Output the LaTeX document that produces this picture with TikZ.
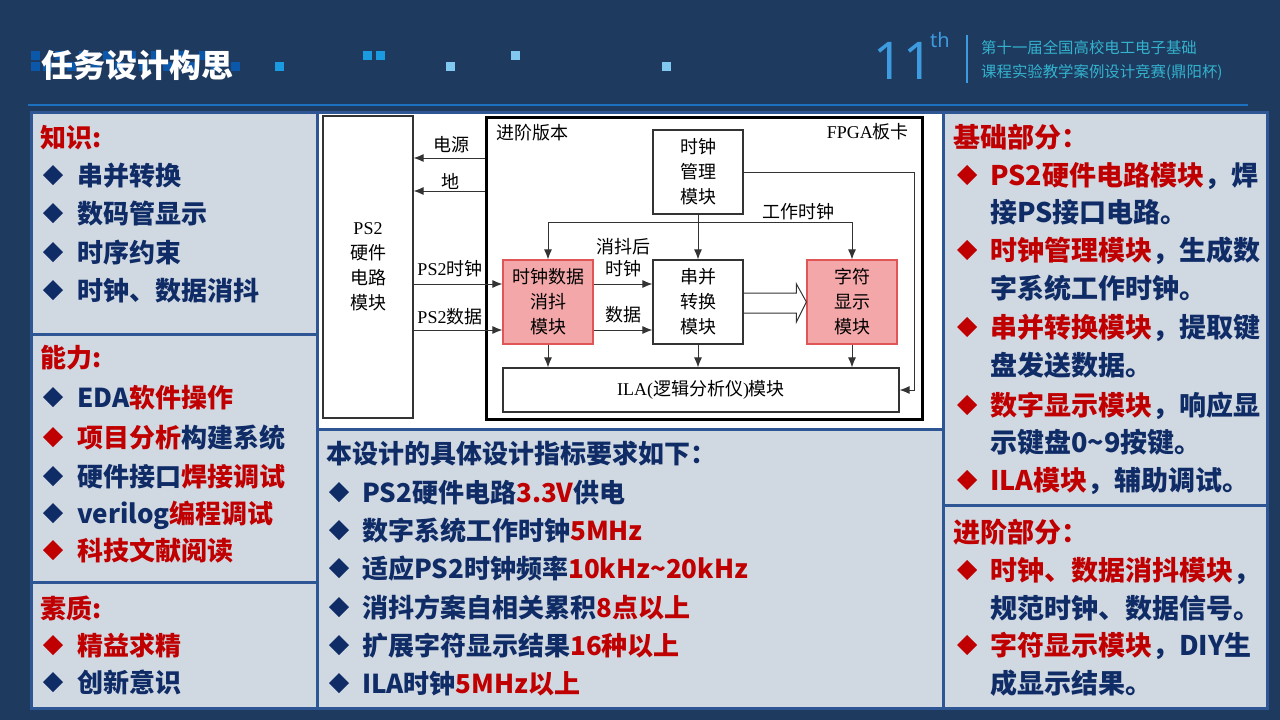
\documentclass[tikz,border=0pt]{standalone}
\usepackage{fontspec}
\setmainfont{Noto Sans CJK SC}
\newfontfamily\dlat{Liberation Serif}
\newfontfamily\numf{Noto Sans}
\usetikzlibrary{arrows.meta,calc}
\definecolor{bgc}{HTML}{1F3A5F}
\definecolor{panelc}{HTML}{D0D8E2}
\definecolor{pborder}{HTML}{2E5594}
\definecolor{navyT}{HTML}{0F2C66}
\definecolor{redT}{HTML}{C00000}
\definecolor{pinkF}{HTML}{F4A7A9}
\definecolor{pinkD}{HTML}{E05555}
\definecolor{hline}{HTML}{1B70C0}
\definecolor{c11}{HTML}{3D9BE0}
\definecolor{tealT}{HTML}{33B2CE}
\definecolor{sqA}{HTML}{0B58AA}
\definecolor{sqB}{HTML}{1A9AE0}
\definecolor{sqC}{HTML}{80C8F0}
\newcommand\mybul[3]{\fill[#3] (#1-10,#2) -- (#1,#2-10) -- (#1+10,#2) -- (#1,#2+10) -- cycle;}
\newcommand\sq[3]{\fill[#3] (#1,#2) rectangle (#1+9,#2+9);}
\tikzset{
  pan/.style={draw=pborder, line width=3pt},
  ptxt/.style={anchor=west, inner sep=0pt, font=\fontsize{26}{30}\selectfont\bfseries, text=navyT, text height=23pt, text depth=3pt},
  rtxt/.style={anchor=west, inner sep=0pt, font=\fontsize{27}{30}\selectfont\bfseries, text=navyT, text height=24pt, text depth=3pt},
  blk/.style={draw=black!80, line width=1.2pt, fill=white, inner sep=0pt, align=center, font=\fontsize{18}{25}\selectfont},
  pinkblk/.style={blk, fill=pinkF, draw=pinkD},
  arr/.style={-{Latex[length=10pt,width=8pt]}, line width=1pt, draw=black!80},
  ln/.style={line width=1pt, draw=black!80},
  lbl/.style={font=\fontsize{18}{22}\selectfont, inner sep=0pt, align=center},
}
\begin{document}
\begin{tikzpicture}[x=1pt,y=-1pt]
\useasboundingbox (0,0) rectangle (1280,720);
\fill[bgc] (0,0) rectangle (1280,720);

% header decoration squares
\foreach \xx in {31,55,79,103,127,151,175,199} {\sq{\xx}{51}{sqA}}
\foreach \xx in {31,43,67,91,115,139,163,187,211,231} {\sq{\xx}{62}{sqA}}
\sq{275}{62}{sqB}
\sq{363}{51}{sqB}
\sq{376}{51}{sqB}
\sq{446}{62}{sqC}
\sq{511}{51}{sqC}
\sq{662}{62}{sqC}
\node[anchor=west, inner sep=0pt, font=\fontsize{32}{36}\selectfont\bfseries, text=white] (title) at (41,65) {任务设计构思};
\draw[hline, line width=2pt] (28,105) -- (1248,105);

\node[inner sep=0pt, font=\numf\fontsize{52}{52}\selectfont, text=c11] (n11) at (903,61) {11};
\node[inner sep=0pt, font=\numf\fontsize{20}{20}\selectfont, text=c11] (nth) at (940,40) {th};
\draw[c11, line width=1.2pt] (967,35) -- (967,83);
\node[anchor=west, inner sep=0pt, font=\fontsize{15.4}{18}\selectfont, text=tealT] (h1) at (981,48) {第十一届全国高校电工电子基础};
\node[anchor=west, inner sep=0pt, font=\fontsize{15.4}{18}\selectfont, text=tealT] (h2) at (981,72) {课程实验教学案例设计竞赛(鼎阳杯)};

% panels
\foreach \a/\b/\c/\d/\f in {31/112/317/334/panelc, 31/334/317/582/panelc, 31/582/317/708/panelc, 317/112/943/429/white, 317/429/943/708/panelc, 943/112/1267/505/panelc, 943/505/1267/708/panelc}
  {\draw[pan, fill=\f] (\a,\b) rectangle (\c,\d);}

% left panel 1
\node[ptxt, text=redT] (k0) at (40,137) {知识:};
\mybul{53}{175}{navyT} \node[ptxt] (k1) at (77,175) {串并转换};
\mybul{53}{213}{navyT} \node[ptxt] (k2) at (77,213) {数码管显示};
\mybul{53}{252}{navyT} \node[ptxt] (k3) at (77,252) {时序约束};
\mybul{53}{290}{navyT} \node[ptxt] (k4) at (77,290) {时钟、数据消抖};
% left panel 2
\node[ptxt, text=redT] (a0) at (40,357) {能力:};
\mybul{53}{397}{navyT} \node[ptxt] (a1) at (77,397) {EDA{\color{redT}软件操作}};
\mybul{53}{437}{redT} \node[ptxt] (a2) at (77,437) {{\color{redT}项目分析}构建系统};
\mybul{53}{476}{navyT} \node[ptxt] (a3) at (77,476) {硬件接口{\color{redT}焊接调试}};
\mybul{53}{513}{navyT} \node[ptxt] (a4) at (77,513) {verilog{\color{redT}编程调试}};
\mybul{53}{550}{redT} \node[ptxt, text=redT] (a5) at (77,550) {科技文献阅读};
% left panel 3
\node[ptxt, text=redT] (q0) at (40,608) {素质:};
\mybul{53}{645}{redT} \node[ptxt, text=redT] (q1) at (77,645) {精益求精};
\mybul{53}{682}{navyT} \node[ptxt] (q2) at (77,682) {创新意识};

% center bottom
\node[ptxt] (s0) at (326,453) {本设计的具体设计指标要求如下：};
\mybul{339}{492}{navyT} \node[ptxt] (s1) at (362,492) {PS2硬件电路{\color{redT}3.3V}供电};
\mybul{339}{530}{navyT} \node[ptxt] (s2) at (362,530) {数字系统工作时钟{\color{redT}5MHz}};
\mybul{339}{568}{navyT} \node[ptxt] (s3) at (362,568) {适应PS2时钟频率{\color{redT}10kHz\textasciitilde20kHz}};
\mybul{339}{607}{navyT} \node[ptxt] (s4) at (362,607) {消抖方案自相关累积{\color{redT}8点以上}};
\mybul{339}{645}{navyT} \node[ptxt] (s5) at (362,645) {扩展字符显示结果{\color{redT}16种以上}};
\mybul{339}{683}{navyT} \node[ptxt] (s6) at (362,683) {ILA时钟{\color{redT}5MHz以上}};

% right panel 1
\node[rtxt, text=redT] (b0) at (953,137) {基础部分：};
\mybul{967}{175}{redT} \node[rtxt] (b1) at (990,175) {{\color{redT}PS2硬件电路模块}，焊};
\node[rtxt] (b1b) at (990,212) {接PS接口电路。};
\mybul{967}{250}{redT} \node[rtxt] (b2) at (990,250) {{\color{redT}时钟管理模块}，生成数};
\node[rtxt] (b2b) at (990,288) {字系统工作时钟。};
\mybul{967}{327}{redT} \node[rtxt] (b3) at (990,327) {{\color{redT}串并转换模块}，提取键};
\node[rtxt] (b3b) at (990,365) {盘发送数据。};
\mybul{967}{405}{redT} \node[rtxt] (b4) at (990,405) {{\color{redT}数字显示模块}，响应显};
\node[rtxt] (b4b) at (990,442) {示键盘0\textasciitilde9按键。};
\mybul{967}{480}{redT} \node[rtxt] (b5) at (990,480) {{\color{redT}ILA模块}，辅助调试。};
% right panel 2
\node[rtxt, text=redT] (j0) at (953,532) {进阶部分：};
\mybul{967}{570}{redT} \node[rtxt] (j1) at (990,570) {{\color{redT}时钟、数据消抖模块}，};
\node[rtxt] (j1b) at (990,608) {规范时钟、数据信号。};
\mybul{967}{645}{redT} \node[rtxt] (j2) at (990,645) {{\color{redT}字符显示模块}，DIY生};
\node[rtxt] (j2b) at (990,683) {成显示结果。};

% ---------- diagram ----------
\node[blk, minimum width=90pt, minimum height=302pt] (ps2) at (368,267) {{\dlat PS2}\\硬件\\电路\\模块};
\node[draw=black, line width=3pt, minimum width=436pt, minimum height=302pt, inner sep=0pt] (fpga) at (704,268) {};
\node[lbl, anchor=west] (adv) at (496,133) {进阶版本};
\node[lbl, anchor=east] (board) at (909,132) {{\dlat FPGA}板卡};
\node[blk, minimum width=90pt, minimum height=84pt] (clkm) at (698,172) {时钟\\管理\\模块};
\node[pinkblk, minimum width=90pt, minimum height=84pt] (deb) at (548,302) {时钟数据\\消抖\\模块};
\node[blk, minimum width=90pt, minimum height=84pt] (s2p) at (698,302) {串并\\转换\\模块};
\node[pinkblk, minimum width=90pt, minimum height=84pt] (disp) at (852,302) {字符\\显示\\模块};
\node[blk, minimum width=396pt, minimum height=44pt] (ila) at (701,390) {{\dlat ILA(}逻辑分析仪{\dlat )}模块};

\coordinate (ypwr) at (0,158);
\coordinate (ygnd) at (0,191);
\coordinate (yclk) at (0,284);
\coordinate (ydat) at (0,330);
\coordinate (ybus) at (0,222);
\coordinate (xr) at (914,0);

\draw[arr] (fpga.west |- ypwr) -- (ps2.east |- ypwr);
\draw[arr] (fpga.west |- ygnd) -- (ps2.east |- ygnd);
\node[lbl] (lpwr) at (451,145) {电源};
\node[lbl] (lgnd) at (450,181) {地};
\draw[arr] (ps2.east |- yclk) -- (deb.west |- yclk);
\draw[arr] (ps2.east |- ydat) -- (deb.west |- ydat);
\node[lbl] (lpc) at (450,269) {{\dlat PS2}时钟};
\node[lbl] (lpd) at (450,317) {{\dlat PS2}数据};
\draw[arr] (deb.east |- yclk) -- (s2p.west |- yclk);
\draw[arr] (deb.east |- ydat) -- (s2p.west |- ydat);
\node[lbl] (ldc) at (623,258) {消抖后\\时钟};
\node[lbl] (ldd) at (623,315) {数据};
\draw[arr] (clkm.south) -- (s2p.north);
\draw[arr] (clkm.south |- ybus) -| (deb.north);
\draw[arr] (clkm.south |- ybus) -| (disp.north);
\node[lbl] (lwork) at (798,212) {工作时钟};
\draw[arr] (clkm.east) -- (xr |- clkm.east) |- (ila.east);
\draw[arr] (deb.south) -- (deb.south |- ila.north);
\draw[arr] (s2p.south) -- (s2p.south |- ila.north);
\draw[arr] (disp.south) -- (disp.south |- ila.north);
% hollow arrow
\draw[ln, line join=miter] ($(s2p.east)+(0,-9)$) -- ($(disp.west)+(-10,-9)$) -- ($(disp.west)+(-10,-18)$) -- (disp.west) -- ($(disp.west)+(-10,20)$) -- ($(disp.west)+(-10,11)$) -- ($(s2p.east)+(0,11)$);
\end{tikzpicture}
\end{document}
